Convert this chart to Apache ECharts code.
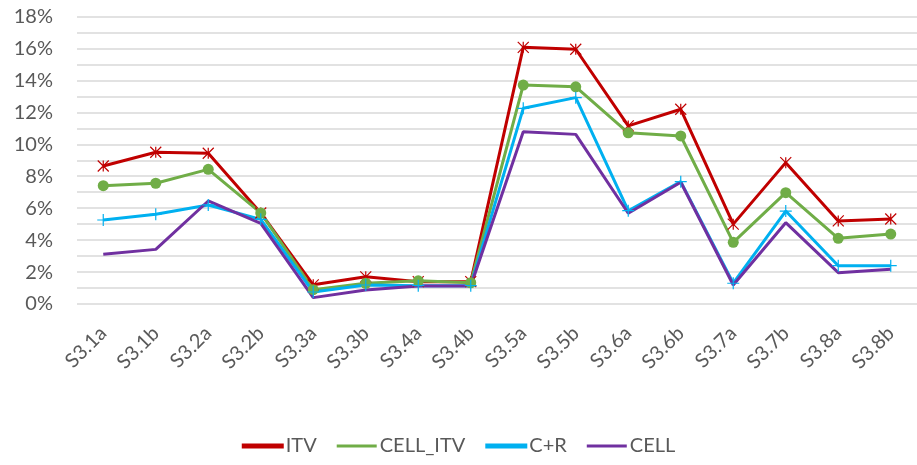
<!DOCTYPE html>
<html>
<head>
<meta charset="utf-8">
<script src="https://cdn.jsdelivr.net/npm/echarts@6/dist/echarts.min.js"></script>
<style>
  html, body { margin: 0; padding: 0; background: #fff; }
  #chart { width: 917px; height: 465px; }
</style>
</head>
<body>
<div id="chart"></div>
<script>
// Scenario categories along the x axis
const categories = ['S3.1a', 'S3.1b', 'S3.2a', 'S3.2b', 'S3.3a', 'S3.3b', 'S3.4a', 'S3.4b',
                    'S3.5a', 'S3.5b', 'S3.6a', 'S3.6b', 'S3.7a', 'S3.7b', 'S3.8a', 'S3.8b'];

// Series values (fractions, shown as percent)
const itv      = [0.0864, 0.0950, 0.0944, 0.0570, 0.0120, 0.0170, 0.0140, 0.0140,
                  0.1607, 0.1595, 0.1115, 0.1219, 0.0500, 0.0885, 0.0520, 0.0532];
const cellItv  = [0.0741, 0.0756, 0.0843, 0.0570, 0.0090, 0.0130, 0.0145, 0.0133,
                  0.1371, 0.1360, 0.1072, 0.1052, 0.0386, 0.0697, 0.0411, 0.0438];
const cr       = [0.0526, 0.0562, 0.0620, 0.0530, 0.0075, 0.0119, 0.0115, 0.0115,
                  0.1225, 0.1292, 0.0584, 0.0766, 0.0130, 0.0582, 0.0240, 0.0240];
const cell     = [0.0311, 0.0342, 0.0645, 0.0505, 0.0040, 0.0088, 0.0113, 0.0113,
                  0.1079, 0.1062, 0.0568, 0.0762, 0.0119, 0.0509, 0.0196, 0.0217];

// Y axis ticks
const yMin = 0, yMax = 0.18, yStep = 0.02;

const FONT = 'Lato, "Open Sans", sans-serif';
const GREY = '#595959';

const STAR = 'path://M0,0L10,10M10,0L0,10M5,0L5,10';
const PLUS = 'path://M5,0L5,10M0,5L10,5';

function lineSeries(name, data, color, symbol, size, filled) {
  return {
    name: name,
    type: 'line',
    data: data,
    symbol: symbol,
    symbolSize: size,
    showSymbol: symbol !== 'none',
    lineStyle: { color: color, width: 3 },
    itemStyle: filled
      ? { color: color, borderColor: color, borderWidth: 0 }
      : { color: 'none', borderColor: color, borderWidth: 1.2 },
    emphasis: { disabled: true },
    animation: false
  };
}

const chart = echarts.init(document.getElementById('chart'), null, { renderer: 'canvas' });
chart.setOption({
  backgroundColor: '#fff',
  textStyle: { fontFamily: FONT },
  grid: { left: 77, right: -13, top: 16.5, bottom: 161, containLabel: false },
  legend: {
    bottom: 4,
    left: 'center',
    icon: 'rect',
    itemWidth: 40,
    itemHeight: 3,
    itemGap: 20,
    textStyle: { color: GREY, fontSize: 20, fontFamily: FONT, padding: [0, 0, 0, -2] },
    data: [
      { name: 'ITV', itemStyle: { color: '#C00000' } },
      { name: 'CELL_ITV', itemStyle: { color: '#70AD47' } },
      { name: 'C+R', itemStyle: { color: '#00B0F0' } },
      { name: 'CELL', itemStyle: { color: '#7030A0' } }
    ]
  },
  xAxis: {
    type: 'category',
    data: categories,
    boundaryGap: true,
    axisLine: { show: false },
    axisTick: { show: false },
    axisLabel: { rotate: 45, color: GREY, fontSize: 20, fontFamily: FONT, margin: 26, interval: 0 }
  },
  yAxis: {
    type: 'value',
    min: yMin,
    max: yMax,
    interval: yStep,
    axisLine: { show: false },
    axisTick: { show: false },
    axisLabel: {
      color: GREY, fontSize: 20, fontFamily: FONT, margin: 24,
      formatter: v => Math.round(v * 100) + '%'
    },
    splitLine: { lineStyle: { color: '#D9D9D9', width: 1.5 } },
    minorTick: { show: false, splitNumber: 2 },
    minorSplitLine: { show: true, lineStyle: { color: '#D9D9D9', width: 1.5 } }
  },
  series: [
    lineSeries('ITV', itv, '#C00000', STAR, 11, false),
    lineSeries('CELL_ITV', cellItv, '#70AD47', 'circle', 11, true),
    lineSeries('C+R', cr, '#00B0F0', PLUS, 12, false),
    lineSeries('CELL', cell, '#7030A0', 'none', 0, true)
  ]
});
</script>
</body>
</html>
